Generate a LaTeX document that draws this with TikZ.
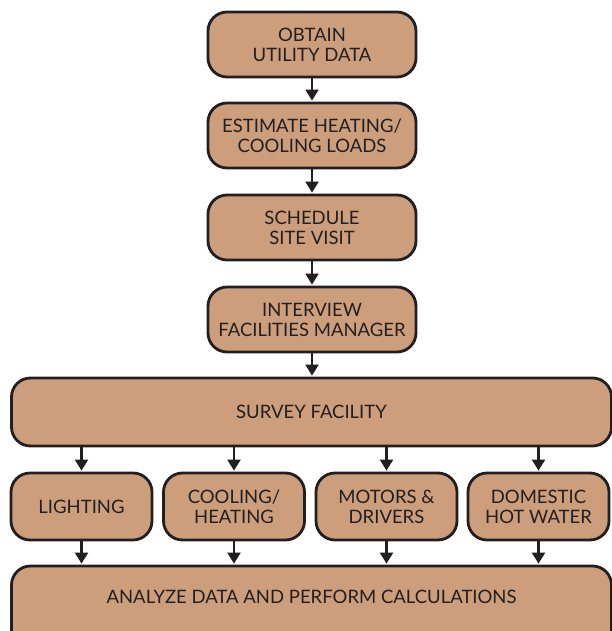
\documentclass[tikz,border=0pt]{standalone}
\usepackage{fontspec}
\setmainfont{Lato}
\usetikzlibrary{arrows.meta}
\definecolor{tan}{HTML}{CC9E7B}
\definecolor{ink}{HTML}{231F20}
\tikzset{
  bx/.style={draw=ink, line width=2.8pt, fill=tan, rounded corners=19pt,
    text=ink, align=center, font=\fontsize{18.5}{20}\selectfont, inner sep=0pt},
  conn/.style={draw=ink, line width=2.2pt, -{Triangle[length=11pt,width=13pt]}, shorten >=1pt}
}
\begin{document}
\begin{tikzpicture}[x=1pt,y=-1pt]
\useasboundingbox (0,0) rectangle (612,631);
\clip (0,0) rectangle (612,631);
\node[bx, minimum width=208pt, minimum height=65pt] (a) at (312,44.5) {OBTAIN\\UTILITY DATA};
\node[bx, minimum width=208pt, minimum height=65pt] (b) at (312,135.5) {ESTIMATE HEATING/\\COOLING LOADS};
\node[bx, minimum width=208pt, minimum height=65pt] (c) at (312,227.5) {SCHEDULE\\SITE VISIT};
\node[bx, minimum width=208pt, minimum height=65pt] (d) at (312,319.5) {INTERVIEW\\FACILITIES MANAGER};
\node[bx, minimum width=600pt, minimum height=68pt] (s) at (311.5,412) {SURVEY FACILITY};
\node[bx, minimum width=141pt, minimum height=67pt] (l) at (81.5,506.5) {LIGHTING};
\node[bx, minimum width=141pt, minimum height=67pt] (h) at (234,506.5) {COOLING/\\HEATING};
\node[bx, minimum width=141pt, minimum height=67pt] (m) at (386.5,506.5) {MOTORS \&\\DRIVERS};
\node[bx, minimum width=141pt, minimum height=67pt] (w) at (538.5,506.5) {DOMESTIC\\HOT WATER};
\node[bx, minimum width=600pt, minimum height=84pt] (an) at (311.5,608) {\raisebox{5pt}[0pt][0pt]{ANALYZE DATA AND PERFORM CALCULATIONS}};
\draw[conn] (a) -- (b);
\draw[conn] (b) -- (c);
\draw[conn] (c) -- (d);
\draw[conn] (d) -- (d.south |- s.north);
\draw[conn] (s.south -| l) -- (l);
\draw[conn] (s.south -| h) -- (h);
\draw[conn] (s.south -| m) -- (m);
\draw[conn] (s.south -| w) -- (w);
\draw[conn] (l) -- (l |- an.north);
\draw[conn] (h) -- (h |- an.north);
\draw[conn] (m) -- (m |- an.north);
\draw[conn] (w) -- (w |- an.north);
\end{tikzpicture}
\end{document}
